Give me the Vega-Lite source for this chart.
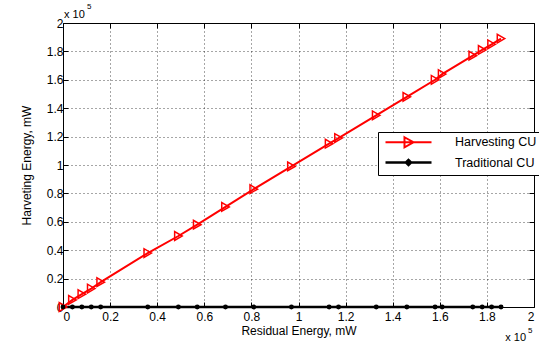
{
  "$schema": "https://vega.github.io/schema/vega-lite/v6.json",
  "width": 471,
  "height": 284,
  "autosize": "none",
  "padding": {"left": 63, "top": 23, "right": 5, "bottom": 35},
  "background": "white",
  "config": {
    "view": {"stroke": "black", "strokeWidth": 1},
    "font": "Liberation Sans",
    "axis": {"labelFont": "Liberation Sans", "titleFont": "Liberation Sans", "labelColor": "black", "titleColor": "black", "labelFontSize": 12, "titleFontSize": 12, "titleFontWeight": "normal", "tickColor": "black", "domain": false}
  },
  "datasets": {
    "series": [
      {"x": 0, "y": 0, "s": "Harvesting CU"},
      {"x": 0.04, "y": 0.05, "s": "Harvesting CU"},
      {"x": 0.08, "y": 0.09, "s": "Harvesting CU"},
      {"x": 0.12, "y": 0.13, "s": "Harvesting CU"},
      {"x": 0.16, "y": 0.175, "s": "Harvesting CU"},
      {"x": 0.36, "y": 0.38, "s": "Harvesting CU"},
      {"x": 0.49, "y": 0.5, "s": "Harvesting CU"},
      {"x": 0.57, "y": 0.58, "s": "Harvesting CU"},
      {"x": 0.69, "y": 0.705, "s": "Harvesting CU"},
      {"x": 0.81, "y": 0.83, "s": "Harvesting CU"},
      {"x": 0.97, "y": 0.99, "s": "Harvesting CU"},
      {"x": 1.13, "y": 1.15, "s": "Harvesting CU"},
      {"x": 1.17, "y": 1.19, "s": "Harvesting CU"},
      {"x": 1.33, "y": 1.35, "s": "Harvesting CU"},
      {"x": 1.46, "y": 1.48, "s": "Harvesting CU"},
      {"x": 1.58, "y": 1.6, "s": "Harvesting CU"},
      {"x": 1.61, "y": 1.64, "s": "Harvesting CU"},
      {"x": 1.74, "y": 1.77, "s": "Harvesting CU"},
      {"x": 1.78, "y": 1.81, "s": "Harvesting CU"},
      {"x": 1.82, "y": 1.85, "s": "Harvesting CU"},
      {"x": 1.86, "y": 1.89, "s": "Harvesting CU"},
      {"x": 0, "y": 0, "s": "Traditional CU"},
      {"x": 0.04, "y": 0, "s": "Traditional CU"},
      {"x": 0.08, "y": 0, "s": "Traditional CU"},
      {"x": 0.12, "y": 0, "s": "Traditional CU"},
      {"x": 0.16, "y": 0, "s": "Traditional CU"},
      {"x": 0.36, "y": 0, "s": "Traditional CU"},
      {"x": 0.49, "y": 0, "s": "Traditional CU"},
      {"x": 0.57, "y": 0, "s": "Traditional CU"},
      {"x": 0.69, "y": 0, "s": "Traditional CU"},
      {"x": 0.81, "y": 0, "s": "Traditional CU"},
      {"x": 0.97, "y": 0, "s": "Traditional CU"},
      {"x": 1.13, "y": 0, "s": "Traditional CU"},
      {"x": 1.17, "y": 0, "s": "Traditional CU"},
      {"x": 1.33, "y": 0, "s": "Traditional CU"},
      {"x": 1.46, "y": 0, "s": "Traditional CU"},
      {"x": 1.58, "y": 0, "s": "Traditional CU"},
      {"x": 1.61, "y": 0, "s": "Traditional CU"},
      {"x": 1.74, "y": 0, "s": "Traditional CU"},
      {"x": 1.78, "y": 0, "s": "Traditional CU"},
      {"x": 1.82, "y": 0, "s": "Traditional CU"},
      {"x": 1.86, "y": 0, "s": "Traditional CU"}
    ],
    "one": [{}]
  },
  "resolve": {"axis": {"x": "independent", "y": "independent"}},
  "layer": [
    {
      "data": {"name": "series"},
      "mark": {"type": "line"},
      "encoding": {
        "x": {"field": "x", "type": "quantitative", "scale": {"domain": [0, 2], "nice": false},
          "axis": {"orient": "bottom", "values": [0, 0.2, 0.4, 0.6, 0.8, 1, 1.2, 1.4, 1.6, 1.8, 2], "format": "~g", "grid": true, "gridDash": [1, 3], "gridColor": "black", "gridOpacity": 0.7, "tickSize": -5, "labelPadding": 9, "title": "Residual Energy, mW", "titlePadding": 3}},
        "y": {"field": "y", "type": "quantitative", "scale": {"domain": [0, 2], "nice": false},
          "axis": {"orient": "left", "values": [0, 0.2, 0.4, 0.6, 0.8, 1, 1.2, 1.4, 1.6, 1.8, 2], "format": "~g", "grid": true, "gridDash": [1, 3], "gridColor": "black", "gridOpacity": 0.7, "tickSize": -5, "labelPadding": 5, "title": "Harveting Energy, mW", "titlePadding": 13}},
        "strokeWidth": {"field": "s", "type": "nominal", "scale": {"domain": ["Harvesting CU", "Traditional CU"], "range": [2, 2.6]}, "legend": null},
        "color": {"field": "s", "type": "nominal",
          "scale": {"domain": ["Harvesting CU", "Traditional CU"], "range": ["#ff0000", "black"]},
          "legend": {"orient": "none", "legendX": 315, "legendY": 109, "title": null, "strokeColor": "black", "fillColor": "white", "padding": 4, "rowPadding": 2, "symbolSize": 100, "symbolStrokeWidth": 1.5, "symbolOffset": 20, "labelOffset": 40, "labelFont": "Liberation Sans", "labelFontSize": 12.5, "labelColor": "black",
            "encode": {"symbols": {"update": {
              "shape": {"signal": "datum.value === 'Traditional CU' ? 'M-4.6,0H4.6M-0.5,0L0,-0.5L0.5,0L0,0.5Z' : 'M-4.6,0H4.6M-0.8,-1L1,0L-0.8,1Z'"},
              "fill": {"signal": "datum.value === 'Traditional CU' ? 'black' : 'transparent'"}
            }}}}}
      }
    },
    {
      "data": {"name": "series"},
      "transform": [{"filter": "datum.s === 'Harvesting CU'"}],
      "mark": {"type": "point", "shape": "triangle-right", "filled": false, "stroke": "#ff0000", "strokeWidth": 1.5, "size": 75, "opacity": 1},
      "encoding": {
        "x": {"field": "x", "type": "quantitative", "axis": null},
        "y": {"field": "y", "type": "quantitative", "axis": null}
      }
    },
    {
      "data": {"name": "series"},
      "transform": [{"filter": "datum.s === 'Traditional CU'"}],
      "mark": {"type": "point", "shape": "circle", "filled": true, "fill": "black", "size": 24, "opacity": 1},
      "encoding": {
        "x": {"field": "x", "type": "quantitative", "axis": {"orient": "top", "values": [0, 0.2, 0.4, 0.6, 0.8, 1, 1.2, 1.4, 1.6, 1.8, 2], "labels": false, "grid": false, "tickSize": -5, "title": null}},
        "y": {"field": "y", "type": "quantitative", "axis": {"orient": "right", "values": [0, 0.2, 0.4, 0.6, 0.8, 1, 1.2, 1.4, 1.6, 1.8, 2], "labels": false, "grid": false, "tickSize": -5, "title": null}}
      }
    },
    {
      "data": {"name": "one"},
      "mark": {"type": "text", "text": "x 10", "align": "left", "baseline": "middle", "dx": 1, "dy": -8, "fontSize": 11, "font": "Liberation Sans", "clip": false},
      "encoding": {"x": {"datum": 0, "type": "quantitative", "axis": null}, "y": {"datum": 2, "type": "quantitative", "axis": null}}
    },
    {
      "data": {"name": "one"},
      "mark": {"type": "text", "text": "5", "align": "left", "baseline": "middle", "dx": 24, "dy": -16, "fontSize": 8, "font": "Liberation Sans", "clip": false},
      "encoding": {"x": {"datum": 0, "type": "quantitative", "axis": null}, "y": {"datum": 2, "type": "quantitative", "axis": null}}
    },
    {
      "data": {"name": "one"},
      "mark": {"type": "text", "text": "x 10", "align": "right", "baseline": "middle", "dx": -8, "dy": 31, "fontSize": 11, "font": "Liberation Sans", "clip": false},
      "encoding": {"x": {"datum": 2, "type": "quantitative", "axis": null}, "y": {"datum": 0, "type": "quantitative", "axis": null}}
    },
    {
      "data": {"name": "one"},
      "mark": {"type": "text", "text": "5", "align": "left", "baseline": "middle", "dx": -6, "dy": 24, "fontSize": 8, "font": "Liberation Sans", "clip": false},
      "encoding": {"x": {"datum": 2, "type": "quantitative", "axis": null}, "y": {"datum": 0, "type": "quantitative", "axis": null}}
    }
  ]
}
